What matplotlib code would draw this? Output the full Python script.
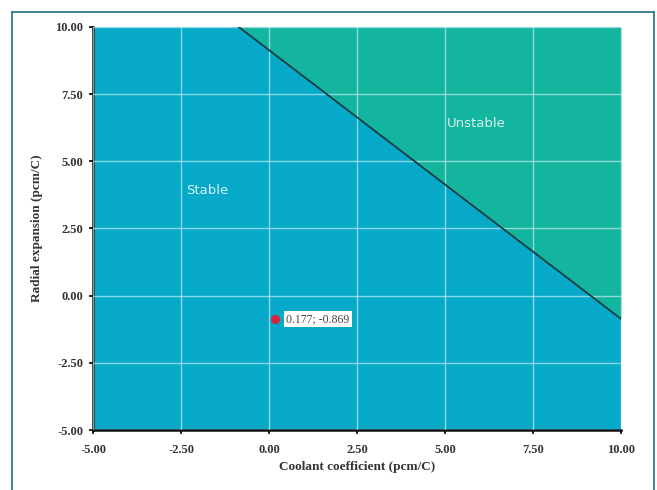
import numpy as np
import matplotlib
matplotlib.use("Agg")
import matplotlib.pyplot as plt
from matplotlib.lines import Line2D

# axis ticks
x_ticks = [-5.0, -2.5, 0.0, 2.5, 5.0, 7.5, 10.0]
y_ticks = [-5.0, -2.5, 0.0, 2.5, 5.0, 7.5, 10.0]

# stability boundary
boundary_x = [-0.86, 10.0]
boundary_y = [10.0, -0.86]

# operating point
point_x = [0.177]
point_y = [-0.869]
point_label = "0.177; -0.869"

stable_col = "#06a9c7"
unstable_col = "#13b59f"

fig = plt.figure(figsize=(6.57, 4.90), dpi=100)
ax = fig.add_axes([0.1416, 0.1224, 0.8034, 0.8226])
ax.set_facecolor(stable_col)

ax.fill_between(boundary_x, boundary_y, 10.0, color=unstable_col, lw=0, zorder=1)
ax.plot(boundary_x, boundary_y, color="#163c44", lw=1.3, zorder=3)

ax.set_xlim(-5, 10)
ax.set_ylim(-5, 10)
ax.set_xticks(x_ticks)
ax.set_yticks(y_ticks)
ax.set_xticklabels(["%.2f" % v for v in x_ticks])
ax.set_yticklabels(["%.2f" % v for v in y_ticks])
ax.grid(True, color="#dff6f8", alpha=0.6, lw=1.0, zorder=2)
ax.set_axisbelow(False)

serif = ["Liberation Serif", "DejaVu Serif"]
for lab in ax.get_xticklabels() + ax.get_yticklabels():
    lab.set_family(serif)
    lab.set_fontweight("bold")
    lab.set_fontsize(9)
    lab.set_color("#333333")
ax.tick_params(axis="x", length=3, width=1.2, color="black", direction="out", pad=7)
ax.tick_params(axis="y", length=3, width=1.2, color="black", direction="out", pad=4)

for s in ["top", "right"]:
    ax.spines[s].set_visible(False)
for s in ["left", "bottom"]:
    ax.spines[s].set_linewidth(1.8)
    ax.spines[s].set_color("#111111")

ax.set_xlabel("Coolant coefficient (pcm/C)", family=serif, fontweight="bold",
              fontsize=9.5, color="#333333", labelpad=4)
ax.set_ylabel("Radial expansion (pcm/C)", family=serif, fontweight="bold",
              fontsize=9.5, color="#333333", labelpad=9)

ax.text(-1.75, 3.9, "Stable", color="#d8f2f6", fontsize=9.5,
        ha="center", va="center", zorder=4)
ax.text(5.9, 6.4, "Unstable", color="#d8f2ee", fontsize=9.5,
        ha="center", va="center", zorder=4)

ax.scatter(point_x, point_y, s=30, color="#e0203a", zorder=5)
ax.annotate(point_label, (point_x[0], point_y[0]), xytext=(8, 0),
            textcoords="offset points", va="center", ha="left",
            family=serif, fontsize=8.5, color="#444444", zorder=6,
            bbox=dict(boxstyle="square,pad=0.2", fc="white", ec="none"))

# outer frame (left, top, right)
fc = "#1f6f80"
x0, x1, y1 = 12 / 657, 654 / 657, 1 - 12 / 490
fig.add_artist(Line2D([x0, x0], [0, y1], color=fc, lw=1.2, transform=fig.transFigure))
fig.add_artist(Line2D([x0, x1], [y1, y1], color=fc, lw=1.2, transform=fig.transFigure))
fig.add_artist(Line2D([x1, x1], [0, y1], color=fc, lw=1.2, transform=fig.transFigure))

fig.savefig("out.png", dpi=100)
